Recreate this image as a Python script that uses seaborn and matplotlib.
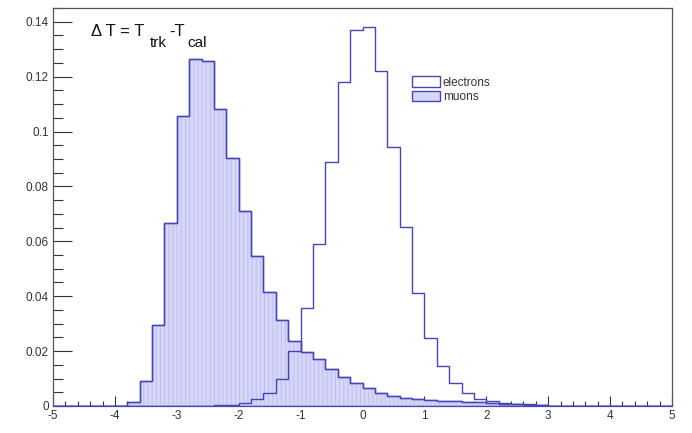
import numpy as np
import pandas as pd
import seaborn as sns
import matplotlib.pyplot as plt
from matplotlib.patches import Patch
from matplotlib.ticker import MultipleLocator, FuncFormatter

# Bin edges: 50 bins of width 0.2 between -5 and 5
edges = [round(-5.0 + 0.2 * i, 1) for i in range(51)]
centers = [round(e + 0.1, 2) for e in edges[:-1]]

# Normalised bin contents (one value per bin, left to right)
electrons = [0, 0, 0, 0, 0, 0, 0, 0, 0, 0,
             0, 0, 0, 0.0003, 0.0005, 0.0012, 0.0024, 0.0049, 0.0098, 0.0200,
             0.0356, 0.0592, 0.0889, 0.1181, 0.1371, 0.1381, 0.1219, 0.0944, 0.0653, 0.0410,
             0.0246, 0.0146, 0.0083, 0.0049, 0.0027, 0.0019, 0.0012, 0.0008, 0.0006, 0.0004,
             0, 0, 0, 0, 0, 0, 0, 0, 0, 0]
muons = [0, 0, 0, 0, 0, 0, 0.0016, 0.0092, 0.0295, 0.0665,
         0.1056, 0.1263, 0.1257, 0.1081, 0.0902, 0.0710, 0.0546, 0.0414, 0.0313, 0.0238,
         0.0198, 0.0170, 0.0134, 0.0107, 0.0085, 0.0064, 0.0049, 0.0038, 0.0030, 0.0025,
         0.0022, 0.0019, 0.0017, 0.0015, 0.0013, 0.0010, 0.0008, 0.0006, 0.0005, 0.0004,
         0, 0, 0, 0, 0, 0, 0, 0, 0, 0]

df = pd.DataFrame({'dt': centers, 'electrons': electrons, 'muons': muons})

line_color = '#4646b4'
fill_color = '#d6d6f8'
hatch_color = '#bdbdf0'

sns.set_style('white')
plt.rcParams['font.family'] = ['Liberation Sans', 'DejaVu Sans']
plt.rcParams['hatch.linewidth'] = 0.6

fig = plt.figure(figsize=(6.92, 4.33), dpi=100)
ax = fig.add_axes([53 / 692, 1 - 406 / 433, 619 / 692, 398 / 433])

# muons: filled histogram
sns.histplot(data=df, x='dt', weights='muons', bins=edges, element='step', fill=True,
             facecolor=fill_color, edgecolor=line_color, linewidth=1.0, alpha=1, ax=ax)
# faint vertical hatch on the muon fill
sns.histplot(data=df, x='dt', weights='muons', bins=edges, element='step', fill=True,
             color=hatch_color, facecolor='none', edgecolor=hatch_color, linewidth=0,
             hatch='||||', alpha=1, ax=ax)
# muon outline again so the hatch layer does not cover it
sns.histplot(data=df, x='dt', weights='muons', bins=edges, element='step', fill=False,
             color=line_color, linewidth=1.0, ax=ax)
# electrons: outline only
sns.histplot(data=df, x='dt', weights='electrons', bins=edges, element='step', fill=False,
             color=line_color, linewidth=1.0, ax=ax)

ax.set_xlim(-5, 5)
ax.set_ylim(0, 0.145)
ax.set_xlabel('')
ax.set_ylabel('')

# ROOT-like ticks
ax.xaxis.set_major_locator(MultipleLocator(1))
ax.xaxis.set_minor_locator(MultipleLocator(0.2))
ax.yaxis.set_major_locator(MultipleLocator(0.02))
ax.yaxis.set_minor_locator(MultipleLocator(0.005))
ax.yaxis.set_major_formatter(FuncFormatter(lambda v, p: '%g' % round(v, 3)))
ax.xaxis.set_major_formatter(FuncFormatter(lambda v, p: '%g' % round(v, 3)))
ax.tick_params(axis='x', which='major', direction='in', length=7.5, width=0.8,
               color='#333333', labelsize=8.5, labelcolor='#333333', pad=3)
ax.tick_params(axis='x', which='minor', direction='in', length=3.5, width=0.8, color='#333333')
ax.tick_params(axis='y', which='major', direction='in', length=14, width=0.8,
               color='#333333', labelsize=8.5, labelcolor='#333333', pad=3)
ax.tick_params(axis='y', which='minor', direction='in', length=7, width=0.8, color='#333333')
ax.tick_params(bottom=True, left=True, which='both')

for side in ['left', 'right', 'top', 'bottom']:
    ax.spines[side].set_visible(True)
    ax.spines[side].set_color('#555555')
    ax.spines[side].set_linewidth(0.9)
ax.spines['bottom'].set_color(line_color)

# Title label  "Delta T = T_trk - T_cal", built from pieces with big subscripts
t1 = ax.text(0.062, 0.929, 'Δ T = T', transform=ax.transAxes,
             fontsize=12, va='baseline', ha='left', color='#111111')
t2 = ax.annotate('trk', xy=(1, 0), xycoords=(t1, t1), xytext=(3.5, -5.5),
                 textcoords='offset points', fontsize=11, va='baseline', ha='left',
                 color='#111111')
t3 = ax.annotate('-T', xy=(1, 0), xycoords=(t2, t1), xytext=(2, 0),
                 textcoords='offset points', fontsize=12, va='bottom', ha='left',
                 color='#111111')
t4 = ax.annotate('cal', xy=(1, 0), xycoords=(t3, t1), xytext=(2, -5.5),
                 textcoords='offset points', fontsize=11, va='baseline', ha='left',
                 color='#111111')

handles = [Patch(facecolor='white', edgecolor=line_color, linewidth=1.0),
           Patch(facecolor=fill_color, edgecolor=line_color, linewidth=1.0)]
ax.legend(handles, ['electrons', 'muons'], loc='upper left', bbox_to_anchor=(0.58, 0.828),
          frameon=False, fontsize=8.5, handlelength=2.4, handleheight=0.95,
          handletextpad=0.2, labelspacing=0.2, borderpad=0, borderaxespad=0,
          labelcolor='#333333')

fig.savefig('out.png', dpi=100)
